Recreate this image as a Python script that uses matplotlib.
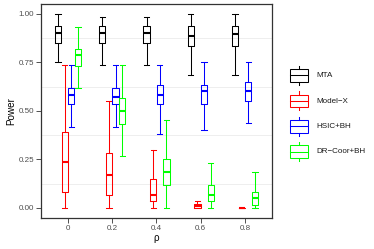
import matplotlib
matplotlib.use("Agg")
import matplotlib.pyplot as plt
from matplotlib.patches import Rectangle

plt.rcParams['font.family'] = ['Liberation Sans', 'DejaVu Sans']

rho_labels = ['0', '0.2', '0.4', '0.6', '0.8']
methods = ['MTA', 'Model\u2212X', 'HSIC+BH', 'DR\u2212Coor+BH']
colors = ['#000000', '#FF0000', '#0000FF', '#00FF00']

# five-number summaries per method, one entry per rho
# (lower whisker, q1, median, q3, upper whisker)
mta_lo = [0.753, 0.735, 0.735, 0.684, 0.684]
mta_q1 = [0.850, 0.850, 0.850, 0.833, 0.833]
mta_med = [0.902, 0.902, 0.902, 0.885, 0.895]
mta_q3 = [0.936, 0.936, 0.936, 0.936, 0.936]
mta_hi = [1.000, 0.983, 0.983, 1.000, 1.000]

mx_lo = [0.0, 0.0, 0.0, 0.0, 0.0]
mx_q1 = [0.082, 0.065, 0.034, 0.0, 0.0]
mx_med = [0.235, 0.168, 0.069, 0.01, 0.0]
mx_q3 = [0.390, 0.283, 0.151, 0.022, 0.0]
mx_hi = [0.735, 0.553, 0.300, 0.034, 0.0]

hs_lo = [0.418, 0.418, 0.383, 0.402, 0.435]
hs_q1 = [0.536, 0.536, 0.536, 0.536, 0.553]
hs_med = [0.584, 0.570, 0.584, 0.601, 0.601]
hs_q3 = [0.617, 0.617, 0.634, 0.632, 0.651]
hs_hi = [0.735, 0.735, 0.735, 0.753, 0.753]

dr_lo = [0.617, 0.268, 0.0, 0.0, 0.0]
dr_q1 = [0.733, 0.433, 0.120, 0.034, 0.017]
dr_med = [0.785, 0.500, 0.184, 0.069, 0.052]
dr_q3 = [0.820, 0.567, 0.250, 0.119, 0.084]
dr_hi = [0.933, 0.735, 0.452, 0.232, 0.184]

summaries = [
    (mta_lo, mta_q1, mta_med, mta_q3, mta_hi),
    (mx_lo, mx_q1, mx_med, mx_q3, mx_hi),
    (hs_lo, hs_q1, hs_med, hs_q3, hs_hi),
    (dr_lo, dr_q1, dr_med, dr_q3, dr_hi),
]

fig = plt.figure(figsize=(3.74, 2.49), dpi=100)
ax = fig.add_axes([41.3/374, 1 - 217.7/249, (271.7 - 41.3)/374, (217.7 - 4)/249])

width = 0.15
offsets = [-1.5*width, -0.5*width, 0.5*width, 1.5*width]
for k, (lo, q1, med, q3, hi) in enumerate(summaries):
    stats = []
    for i in range(len(rho_labels)):
        stats.append(dict(whislo=lo[i], q1=q1[i], med=med[i], q3=q3[i],
                          whishi=hi[i], fliers=[]))
    pos = [i + offsets[k] for i in range(len(rho_labels))]
    c = colors[k]
    ax.bxp(stats, positions=pos, widths=width*0.92, capwidths=width*0.8,
           showfliers=False, manage_ticks=False,
           boxprops=dict(color=c, linewidth=0.75),
           whiskerprops=dict(color=c, linewidth=0.75),
           capprops=dict(color=c, linewidth=0.75),
           medianprops=dict(color=c, linewidth=1.5))

ax.set_xlim(-0.6, 4.6)
ax.set_ylim(-0.05, 1.05)
ax.set_xticks(range(len(rho_labels)))
ax.set_xticklabels(rho_labels)
ax.set_yticks([0, 0.25, 0.5, 0.75, 1.0])
ax.set_yticklabels(['0.00', '0.25', '0.50', '0.75', '1.00'])
for g in [0.125, 0.375, 0.625, 0.875]:
    ax.axhline(g, color='#EBEBEB', linewidth=0.6, zorder=0)
ax.tick_params(labelsize=5.8, colors='#333333', labelcolor='#4D4D4D',
               length=3.5, width=0.6, pad=1.5)
for s in ax.spines.values():
    s.set_color('#333333')
    s.set_linewidth(0.9)
ax.set_ylabel('Power', fontsize=7.1, labelpad=2)
ax.set_xlabel('\u03c1', fontsize=7.1, labelpad=1)

# legend drawn in pixel coordinates
lg = fig.add_axes([0, 0, 1, 1])
lg.set_xlim(0, 374)
lg.set_ylim(249, 0)
lg.axis('off')
key_y = [75.3, 101.0, 126.3, 151.7]
for k, name in enumerate(methods):
    y = key_y[k]
    c = colors[k]
    lg.plot([299, 299], [y - 9.6, y - 6.3], color=c, linewidth=0.75)
    lg.plot([299, 299], [y + 6.3, y + 9.4], color=c, linewidth=0.75)
    lg.add_patch(Rectangle((290, y - 6.3), 18, 12.6, fill=False,
                           edgecolor=c, linewidth=0.75))
    lg.plot([290, 308], [y, y], color=c, linewidth=0.75)
    lg.text(316.7, y, name, fontsize=5.8, va='center', ha='left',
            color='#1A1A1A')

fig.savefig('out.png', dpi=100)
